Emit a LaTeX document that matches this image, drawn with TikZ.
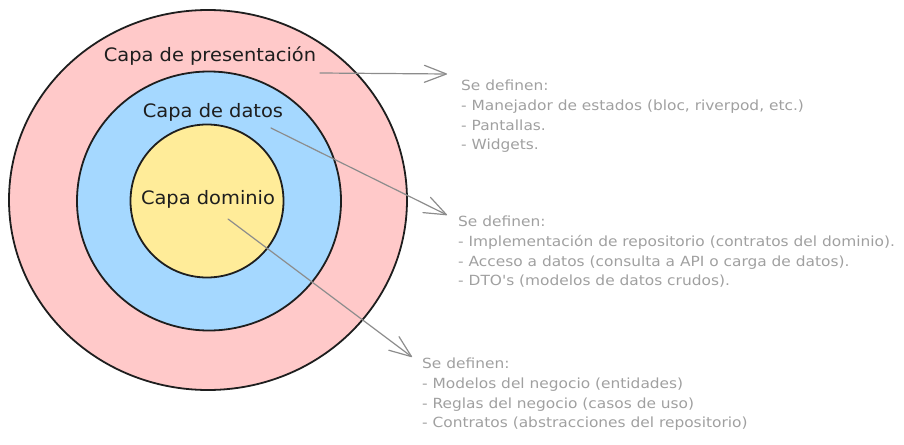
\documentclass[tikz,border=0pt]{standalone}
\usepackage{fontspec}
\setmainfont{DejaVu Sans}
\newfontfamily\layerfont[FakeStretch=1.05]{DejaVu Sans}
\newfontfamily\notefont[FakeStretch=1.1]{DejaVu Sans}
\usetikzlibrary{arrows.meta,shapes.geometric}
\definecolor{ringred}{HTML}{FFC9C9}
\definecolor{ringblue}{HTML}{A5D8FF}
\definecolor{ringyellow}{HTML}{FFEC99}
\definecolor{ink}{HTML}{1E1E1E}
\definecolor{pointer}{HTML}{8C8C8C}
\definecolor{note}{HTML}{A0A0A0}
\begin{document}
\begin{tikzpicture}[x=1pt,y=-1pt,
  ring/.style={ellipse, draw=ink, line width=1.8pt, inner sep=0},
  layer/.style={text=ink, font=\layerfont\fontsize{18.5}{20}\selectfont, inner sep=0, anchor=base},
  notes/.style={text=note, font=\notefont\fontsize{14}{19.7}\selectfont, align=left, anchor=north west, inner sep=0},
  pointer/.style={draw=pointer, line width=1.2pt, line cap=round,
    -{Straight Barb[length=22pt, width=17pt, line cap=round, line join=round]}}
]
\useasboundingbox (0,0) rectangle (904,444);

% concentric layers
\node[ring, fill=ringred,    minimum width=398pt, minimum height=380pt] (outer)  at (208,200) {};
\node[ring, fill=ringblue,   minimum width=264pt, minimum height=259pt] (middle) at (209,201) {};
\node[ring, fill=ringyellow, minimum width=153pt, minimum height=153pt] (inner)  at (207,201) {};

% layer names
\node[layer] (lpres)  at (210,61)  {Capa de presentación};
\node[layer] (ldatos) at (213,117) {Capa de datos};
\node[layer] (ldom)   at (208,204) {Capa dominio};

% descriptions
\node[notes] (npres) at (461,80) {Se definen:\\
- Manejador de estados (bloc, riverpod, etc.)\\
- Pantallas.\\
- Widgets.};
\node[notes] (ndatos) at (458,216) {Se definen:\\
- Implementación de repositorio (contratos del dominio).\\
- Acceso a datos (consulta a API o carga de datos).\\
- DTO's (modelos de datos crudos).};
\node[notes] (ndom) at (422,358) {Se definen:\\
- Modelos del negocio (entidades)\\
- Reglas del negocio (casos de uso)\\
- Contratos (abstracciones del repositorio)};

% pointer ends
\coordinate (presFrom)  at (320,73);
\coordinate (presTo)    at (447,74);
\coordinate (datosFrom) at (271,128);
\coordinate (datosTo)   at (447,215);
\coordinate (domFrom)   at (228,219);
\coordinate (domTo)     at (412,357);

\draw[pointer] (presFrom)  -- (presTo);
\draw[pointer] (datosFrom) -- (datosTo);
\draw[pointer] (domFrom)   -- (domTo);
\end{tikzpicture}
\end{document}
